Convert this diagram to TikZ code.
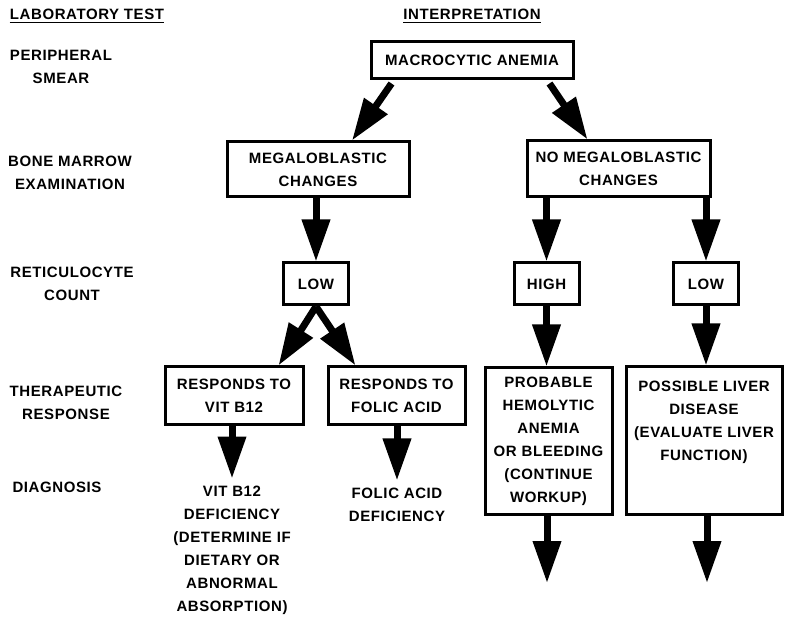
\documentclass[tikz,border=0pt]{standalone}
\usepackage{fontspec}
\setmainfont{Liberation Sans}[LetterSpace=4]
\usetikzlibrary{arrows.meta,positioning}

\begin{document}
\begin{tikzpicture}[
    x=1pt, y=-1pt,
    every node/.style={font=\fontsize{15}{23}\selectfont\bfseries, align=center, inner sep=0pt},
    % boxes of the interpretation column
    box/.style={draw, line width=3pt},
    smallbox/.style={box, minimum width=65pt, minimum height=42pt},
    % fat arrows
    arr/.style={line width=7pt, -{Triangle[length=42pt,width=27pt]}},
  ]
  \useasboundingbox (0,0) rectangle (785,617);

  % headings
  \node (labhead) at (87,14) {LABORATORY TEST};
  \node (inthead) at (472,14) {INTERPRETATION};
  \draw[line width=1.5pt] ([yshift=-3pt]labhead.south west) -- ([yshift=-3pt]labhead.south east);
  \draw[line width=1.5pt] ([yshift=-3pt]inthead.south west) -- ([yshift=-3pt]inthead.south east);

  % laboratory tests
  \node (smear)  at (61,66.5) {PERIPHERAL\\SMEAR};
  \node (marrow) at (70,173)  {BONE MARROW\\EXAMINATION};
  \node (retic)  at (72,284)  {RETICULOCYTE\\COUNT};
  \node (thera)  at (66,403)  {THERAPEUTIC\\RESPONSE};
  \node (diag)   at (57,487.5) {DIAGNOSIS};

  % interpretation
  \node[box, minimum width=202pt, minimum height=37pt] (macro) at (472,60.5) {MACROCYTIC ANEMIA};
  \node[box, minimum width=182pt, minimum height=55pt] (megalo) at (318,169.5) {MEGALOBLASTIC\\CHANGES};
  \node[box, minimum width=183pt, minimum height=56pt] (nomegalo) at (618.5,169) {NO MEGALOBLASTIC\\CHANGES};
  \node[smallbox] (lowret)  at (316,284)   {LOW};
  \node[smallbox] (highret) at (546.5,284) {HIGH};
  \node[smallbox] (lowret2) at (706,284)   {LOW};
  \node[box, minimum width=138pt, minimum height=58pt] (vitresp) at (234,396) {RESPONDS TO\\VIT B12};
  \node[box, minimum width=137pt, minimum height=58pt] (folresp) at (396.5,396) {RESPONDS TO\\FOLIC ACID};
  \node[box, minimum width=127pt, minimum height=147pt] (hemol) at (548.5,441.5)
    {PROBABLE\\HEMOLYTIC\\ANEMIA\\OR BLEEDING\\(CONTINUE\\WORKUP)};
  \node[box, minimum width=156pt, minimum height=148pt] (liver) at (704,441) {};
  \node[below=15pt of liver.north] (livertext) {POSSIBLE LIVER\\DISEASE\\(EVALUATE LIVER\\FUNCTION)};
  \node (vitdx) at (232,550) {VIT B12\\DEFICIENCY\\(DETERMINE IF\\DIETARY OR\\ABNORMAL\\ABSORPTION)};
  \node (foldx) at (397,504.5) {FOLIC ACID\\DEFICIENCY};
  \coordinate (hemolend) at (547,583);
  \coordinate (liverend) at (707,583);

  % arrows
  \draw[arr] ([xshift=22pt,yshift=-3pt]macro.south west) -- ([xshift=34pt]megalo.north);
  \draw[arr] ([xshift=-25pt,yshift=-3pt]macro.south east) -- ([xshift=-31pt]nomegalo.north);
  \draw[arr] (lowret.north |- megalo.south) -- (lowret.north);
  \draw[arr] (lowret.south) -- ([xshift=-26pt]vitresp.north east);
  \draw[arr] (lowret.south) -- ([xshift=29pt]folresp.north west);
  \draw[arr] (highret.north |- nomegalo.south) -- (highret.north);
  \draw[arr] (lowret2.north |- nomegalo.south) -- (lowret2.north);
  \draw[arr, shorten >=7pt] (vitdx.north |- vitresp.south) -- (vitdx.north);
  \draw[arr, shorten >=7pt] (foldx.north |- folresp.south) -- (foldx.north);
  \draw[arr] (highret.south) -- (highret.south |- hemol.north);
  \draw[arr] (lowret2.south) -- (lowret2.south |- liver.north);
  \draw[arr] (hemolend |- hemol.south) -- (hemolend);
  \draw[arr] (liverend |- liver.south) -- (liverend);
\end{tikzpicture}
\end{document}
